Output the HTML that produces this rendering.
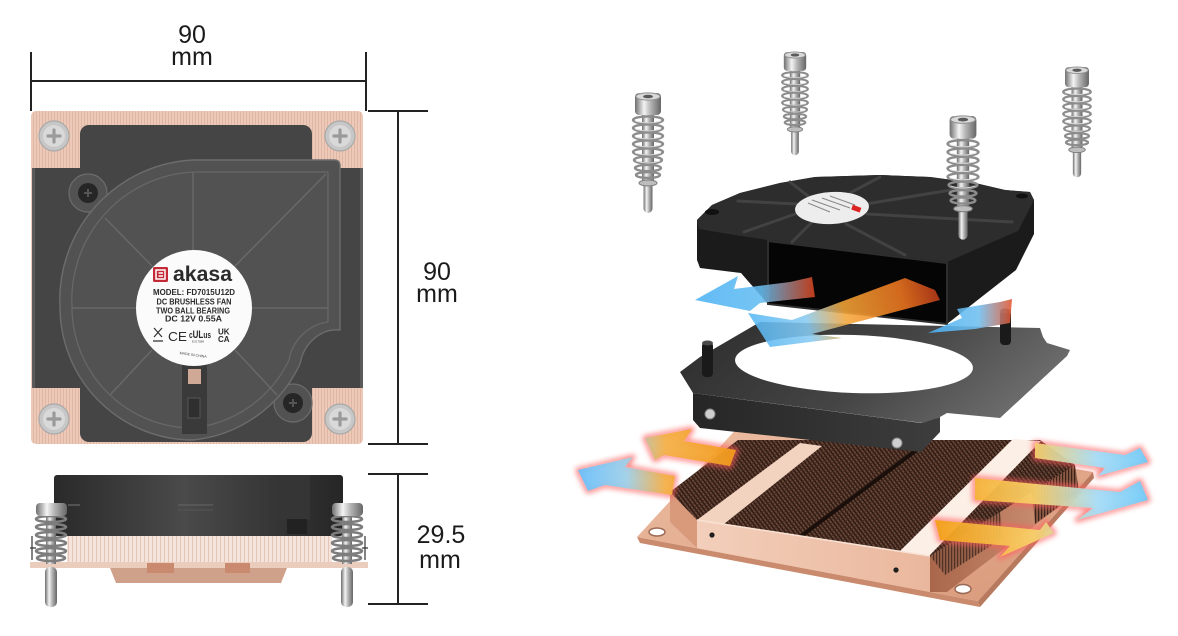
<!DOCTYPE html>
<html><head><meta charset="utf-8">
<style>
html,body{margin:0;padding:0;background:#fff;}
svg{display:block;}
text{font-family:"Liberation Sans",Arial,sans-serif;}
</style></head>
<body>
<svg width="1178" height="636" viewBox="0 0 1178 636" xmlns="http://www.w3.org/2000/svg">
<defs>
  <pattern id="cuTop" width="3" height="10" patternUnits="userSpaceOnUse">
    <rect width="3" height="10" fill="#ecc9b8"/><rect width="1" height="10" fill="#e0b5a1"/>
  </pattern>
  <pattern id="cuSide" width="4" height="10" patternUnits="userSpaceOnUse">
    <rect width="4" height="10" fill="#f5e4db"/><rect width="1" height="10" fill="#e3c6b6"/>
  </pattern>
  <pattern id="finsDark" width="3.4" height="3.4" patternUnits="userSpaceOnUse" patternTransform="rotate(-37)">
    <rect width="3.4" height="3.4" fill="#6a4637"/><rect width="1.5" height="3.4" fill="#2a1912"/><rect width="3.4" height="0.8" fill="#3c261d"/>
  </pattern>
  <pattern id="finsSideR" width="3" height="10" patternUnits="userSpaceOnUse">
    <rect width="3" height="10" fill="#8a5a45"/><rect width="1.2" height="10" fill="#3b2219"/>
  </pattern>
  <linearGradient id="metalH" x1="0" x2="1" y1="0" y2="0">
    <stop offset="0" stop-color="#6e6e6e"/><stop offset="0.35" stop-color="#f4f4f4"/>
    <stop offset="0.6" stop-color="#b4b4b4"/><stop offset="1" stop-color="#666"/>
  </linearGradient>
  <linearGradient id="fanSide" x1="0" x2="1" y1="0" y2="0">
    <stop offset="0" stop-color="#2a2a2a"/><stop offset="0.45" stop-color="#4a4a4a"/><stop offset="1" stop-color="#262626"/>
  </linearGradient>
  <linearGradient id="brTop" x1="0" x2="1" y1="0" y2="0.3">
    <stop offset="0" stop-color="#2c2c2c"/><stop offset="0.6" stop-color="#454545"/><stop offset="1" stop-color="#6a6a6a"/>
  </linearGradient>
  <linearGradient id="brFront" x1="0" x2="1" y1="0" y2="0">
    <stop offset="0" stop-color="#262626"/><stop offset="1" stop-color="#3d3d3d"/>
  </linearGradient>
  <linearGradient id="plateG" x1="0" x2="1" y1="0" y2="1">
    <stop offset="0" stop-color="#eec0a6"/><stop offset="1" stop-color="#d89878"/>
  </linearGradient>
  <linearGradient id="frontG" x1="0" x2="1" y1="0" y2="0">
    <stop offset="0" stop-color="#f3cfbb"/><stop offset="1" stop-color="#eab79d"/>
  </linearGradient>
  <linearGradient id="rightFace" x1="0" x2="1" y1="0" y2="0">
    <stop offset="0" stop-color="#a9664a"/><stop offset="1" stop-color="#d39a7e"/>
  </linearGradient>
  <linearGradient id="gA1" gradientUnits="userSpaceOnUse" x1="695" y1="0" x2="815" y2="0">
    <stop offset="0" stop-color="#4db3f5"/><stop offset="0.55" stop-color="#63bdf2"/><stop offset="1" stop-color="#d8431c"/>
  </linearGradient>
  <linearGradient id="gA2" gradientUnits="userSpaceOnUse" x1="750" y1="340" x2="940" y2="285">
    <stop offset="0" stop-color="#53b6f5"/><stop offset="0.3" stop-color="#88cbf2"/><stop offset="0.5" stop-color="#f5a638"/>
    <stop offset="0.8" stop-color="#ee7720"/><stop offset="1" stop-color="#b8361a"/>
  </linearGradient>
  <linearGradient id="gA3" gradientUnits="userSpaceOnUse" x1="928" y1="0" x2="1012" y2="0">
    <stop offset="0" stop-color="#4db3f5"/><stop offset="0.6" stop-color="#6fbff0"/><stop offset="1" stop-color="#e4552e"/>
  </linearGradient>
  <linearGradient id="gL" gradientUnits="userSpaceOnUse" x1="580" y1="0" x2="735" y2="0">
    <stop offset="0" stop-color="#6cc0fb"/><stop offset="0.3" stop-color="#9fcfe8"/><stop offset="0.55" stop-color="#f5b048"/><stop offset="1" stop-color="#f39a1c"/>
  </linearGradient>
  <linearGradient id="gR" gradientUnits="userSpaceOnUse" x1="940" y1="0" x2="1150" y2="0">
    <stop offset="0" stop-color="#f4a11c"/><stop offset="0.45" stop-color="#f8cf6a"/><stop offset="0.75" stop-color="#a6dcf7"/><stop offset="1" stop-color="#6fcaf8"/>
  </linearGradient>
  <filter id="glow" x="-20%" y="-40%" width="140%" height="180%"><feGaussianBlur stdDeviation="2.6"/></filter>
  <filter id="soft" x="-10%" y="-10%" width="120%" height="120%"><feGaussianBlur stdDeviation="1.2"/></filter>

  <g id="scr">
    <rect x="-4.5" y="20" width="9" height="100" rx="4.5" fill="url(#metalH)"/>
    <rect x="-6" y="20" width="12" height="72" fill="url(#metalH)"/>
    <g fill="none" stroke="#8c8c8c" stroke-width="2.4">
      <ellipse cx="0" cy="27" rx="15" ry="3.6"/><ellipse cx="0" cy="35" rx="15" ry="3.6"/>
      <ellipse cx="0" cy="43" rx="15" ry="3.6"/><ellipse cx="0" cy="51" rx="15" ry="3.6"/>
      <ellipse cx="0" cy="59" rx="15" ry="3.6"/><ellipse cx="0" cy="67" rx="14" ry="3.4"/>
      <ellipse cx="0" cy="75" rx="13" ry="3.2"/><ellipse cx="0" cy="82" rx="12" ry="3"/>
    </g>
    <g fill="none" stroke="#e6e6e6" stroke-width="0.8">
      <path d="M-13,28 Q0,32 13,28"/><path d="M-13,36 Q0,40 13,36"/><path d="M-13,44 Q0,48 13,44"/>
      <path d="M-13,52 Q0,56 13,52"/><path d="M-13,60 Q0,64 13,60"/><path d="M-12,68 Q0,72 12,68"/>
    </g>
    <ellipse cx="0" cy="90" rx="9" ry="3" fill="#bdbdbd" stroke="#7c7c7c" stroke-width="1"/>
    <rect x="-13" y="0" width="26" height="22" rx="4" fill="url(#metalH)"/>
    <ellipse cx="0" cy="3.5" rx="12" ry="3.6" fill="#d9d9d9" stroke="#909090" stroke-width="1"/>
    <ellipse cx="0" cy="3.5" rx="5" ry="1.8" fill="#5a5a5a"/>
  </g>
</defs>

<rect width="1178" height="636" fill="#fff"/>

<!-- ===== LEFT TOP VIEW ===== -->
<g stroke="#222" stroke-width="2" fill="none">
  <line x1="31" y1="52" x2="31" y2="111"/>
  <line x1="366" y1="52" x2="366" y2="111"/>
  <line x1="31" y1="81" x2="366" y2="81"/>
  <line x1="368" y1="111" x2="428" y2="111"/>
  <line x1="368" y1="444" x2="428" y2="444"/>
  <line x1="398" y1="111" x2="398" y2="444"/>
  <line x1="368" y1="474" x2="428" y2="474"/>
  <line x1="368" y1="604" x2="428" y2="604"/>
  <line x1="398" y1="474" x2="398" y2="604"/>
</g>
<g fill="#1a1a1a" font-size="25" text-anchor="middle">
  <text x="192" y="43">90</text>
  <text x="192" y="65">mm</text>
  <text x="437" y="280">90</text>
  <text x="437" y="302">mm</text>
  <text x="441" y="543">29.5</text>
  <text x="440" y="568">mm</text>
</g>

<rect x="31" y="111" width="332" height="333" rx="5" fill="url(#cuTop)"/>
<rect x="80" y="125" width="232" height="317" rx="9" fill="#454545"/>
<rect x="32" y="168" width="331" height="220" fill="#454545"/>
<rect x="32" y="168" width="3" height="220" fill="#5a5a5a"/>
<rect x="360" y="168" width="3" height="220" fill="#5a5a5a"/>

<!-- fan housing -->
<circle cx="88" cy="193" r="19" fill="#525252" stroke="#6c6c6c" stroke-width="1.2"/>
<circle cx="293" cy="403" r="19" fill="#525252" stroke="#6c6c6c" stroke-width="1.2"/>
<path d="M193,160 L334,160 Q340,160 340,166 L340,330 C322,328 304,342 300,364 A133 133 0 0 1 193,440 A133 133 0 0 1 60,307 A140 140 0 0 1 193,160 Z" fill="#525252" stroke="#6c6c6c" stroke-width="1.4"/>
<path d="M193,172 L328,172 L328,322 C310,324 292,340 289,360 A121 121 0 0 1 193,428 A121 121 0 0 1 72,307 A128 128 0 0 1 193,172 Z" fill="none" stroke="#676767" stroke-width="1.3"/>
<g stroke="#686868" stroke-width="1.5">
  <line x1="193" y1="172" x2="193" y2="250"/>
  <line x1="235" y1="266" x2="326" y2="174"/>
  <line x1="252" y1="308" x2="328" y2="308"/>
  <line x1="235" y1="350" x2="277" y2="395"/>
  <line x1="152" y1="350" x2="110" y2="395"/>
  <line x1="72" y1="308" x2="136" y2="308"/>
  <line x1="152" y1="266" x2="105" y2="218"/>
</g>
<!-- slot -->
<rect x="182" y="364" width="25" height="70" fill="#3a3a3a"/>
<rect x="188" y="369" width="13" height="15" fill="#cfa995"/>
<rect x="188" y="398" width="12" height="20" fill="#2f2f2f" stroke="#555" stroke-width="1"/>
<!-- fan screws -->
<circle cx="88" cy="193" r="10" fill="#262626"/>
<path d="M84,193 H92 M88,189 V197" stroke="#555" stroke-width="2"/>
<circle cx="293" cy="403" r="10" fill="#262626"/>
<path d="M289,403 H297 M293,399 V407" stroke="#555" stroke-width="2"/>

<!-- label -->
<circle cx="194" cy="308" r="58" fill="#fbfbfb"/>
<rect x="153" y="267" width="15" height="15" rx="1.5" fill="#c42a35"/>
<path d="M156,270 H165 V279 H156 Z M158.5,273 H163 M158.5,276 H163" fill="none" stroke="#fff" stroke-width="1.5"/>
<text x="173" y="281" font-size="21" font-weight="bold" fill="#2b2b2b" textLength="59" lengthAdjust="spacingAndGlyphs">akasa</text>
<g font-size="8" font-weight="bold" fill="#2a2a2a" text-anchor="middle">
  <text x="194" y="295" textLength="82" lengthAdjust="spacingAndGlyphs">MODEL: FD7015U12D</text>
  <text x="194" y="304.3" textLength="75" lengthAdjust="spacingAndGlyphs">DC BRUSHLESS FAN</text>
  <text x="193" y="313.3" textLength="74" lengthAdjust="spacingAndGlyphs">TWO BALL BEARING</text>
  <text x="193.5" y="321.7" textLength="57" lengthAdjust="spacingAndGlyphs">DC 12V   0.55A</text>
</g>
<path d="M154,328 L162,337 M162,328 L154,337 M153,341 H163" stroke="#333" stroke-width="1.2"/>
<text x="168" y="341" font-size="13" fill="#2a2a2a" textLength="19" lengthAdjust="spacingAndGlyphs">CE</text>
<text x="189" y="338" font-size="9" font-weight="bold" fill="#2a2a2a" textLength="22" lengthAdjust="spacingAndGlyphs">c<tspan font-size="11">UL</tspan>us</text>
<text x="192" y="342.5" font-size="3" fill="#444">E317588</text>
<text x="218" y="334.5" font-size="8" font-weight="bold" fill="#2a2a2a">UK</text>
<text x="218" y="342" font-size="8" font-weight="bold" fill="#2a2a2a">CA</text>
<text x="193" y="356" font-size="3.6" fill="#444" text-anchor="middle" transform="rotate(8 193 356)">MADE IN CHINA</text>

<!-- copper corner screws -->
<g>
  <circle cx="54" cy="136" r="15" fill="#c7c7c7" stroke="#a9a9a9" stroke-width="1.2"/>
  <circle cx="54" cy="136" r="11" fill="#d9d9d9"/>
  <path d="M48,136 H60 M54,130 V142" stroke="#9a9a9a" stroke-width="3.2" stroke-linecap="round"/>
  <circle cx="340" cy="136" r="15" fill="#c7c7c7" stroke="#a9a9a9" stroke-width="1.2"/>
  <circle cx="340" cy="136" r="11" fill="#d9d9d9"/>
  <path d="M334,136 H346 M340,130 V142" stroke="#9a9a9a" stroke-width="3.2" stroke-linecap="round"/>
  <circle cx="54" cy="419" r="15" fill="#c7c7c7" stroke="#a9a9a9" stroke-width="1.2"/>
  <circle cx="54" cy="419" r="11" fill="#d9d9d9"/>
  <path d="M48,419 H60 M54,413 V425" stroke="#9a9a9a" stroke-width="3.2" stroke-linecap="round"/>
  <circle cx="340" cy="419" r="15" fill="#c7c7c7" stroke="#a9a9a9" stroke-width="1.2"/>
  <circle cx="340" cy="419" r="11" fill="#d9d9d9"/>
  <path d="M334,419 H346 M340,413 V425" stroke="#9a9a9a" stroke-width="3.2" stroke-linecap="round"/>
</g>

<!-- ===== SIDE VIEW ===== -->
<rect x="54" y="475" width="289" height="61" rx="3" fill="url(#fanSide)"/>
<rect x="277" y="475" width="33" height="45" fill="#353535"/>
<rect x="287" y="519" width="20" height="15" fill="#222"/>
<line x1="68" y1="505" x2="80" y2="505" stroke="#777" stroke-width="1"/>
<line x1="178" y1="505" x2="213" y2="505" stroke="#666" stroke-width="1"/>
<line x1="178" y1="510" x2="213" y2="510" stroke="#555" stroke-width="1"/>
<rect x="67" y="536" width="265" height="26" fill="url(#cuSide)"/>
<rect x="30" y="562" width="338" height="6" fill="#eacdbd"/>
<polygon points="110,568 287,568 281,583 116,583" fill="#cfa18b"/>
<rect x="147" y="563" width="27" height="10" fill="#c98a70"/>
<rect x="225" y="563" width="25" height="10" fill="#c98a70"/>
<g stroke="#333" stroke-width="1.2" fill="none">
  <path d="M32,536 V560 M30,548 H36"/>
  <path d="M365,536 V560 M368,548 H362"/>
</g>
<g>
  <rect x="46" y="514" width="10" height="50" fill="url(#metalH)"/>
  <rect x="45" y="567" width="12" height="40" rx="5" fill="url(#metalH)"/>
  <g fill="none" stroke="#7d7d7d" stroke-width="2.6">
    <ellipse cx="51" cy="519" rx="15" ry="3"/><ellipse cx="51" cy="527" rx="15" ry="3"/>
    <ellipse cx="51" cy="535" rx="15" ry="3"/><ellipse cx="51" cy="543" rx="15" ry="3"/>
    <ellipse cx="51" cy="551" rx="15" ry="3"/><ellipse cx="51" cy="558" rx="14" ry="3"/>
  </g>
  <rect x="36" y="503" width="31" height="13" rx="4" fill="url(#metalH)"/>
  <rect x="342" y="514" width="10" height="50" fill="url(#metalH)"/>
  <rect x="341" y="567" width="12" height="40" rx="5" fill="url(#metalH)"/>
  <g fill="none" stroke="#7d7d7d" stroke-width="2.6">
    <ellipse cx="347" cy="519" rx="15" ry="3"/><ellipse cx="347" cy="527" rx="15" ry="3"/>
    <ellipse cx="347" cy="535" rx="15" ry="3"/><ellipse cx="347" cy="543" rx="15" ry="3"/>
    <ellipse cx="347" cy="551" rx="15" ry="3"/><ellipse cx="347" cy="558" rx="14" ry="3"/>
  </g>
  <rect x="332" y="503" width="31" height="13" rx="4" fill="url(#metalH)"/>
</g>

<!-- ===== RIGHT EXPLODED VIEW ===== -->
<!-- heatsink base plate -->
<polygon points="637,537 978,601 980,607 640,543" fill="#c98a6d"/>
<polygon points="978,601 1093,472 1094,478 980,607" fill="#b87a5f"/>
<polygon points="637,537 752,412 1093,472 978,601" fill="url(#plateG)"/>
<ellipse cx="657" cy="532" rx="8" ry="4" fill="#fff" stroke="#9a6a55" stroke-width="1.5"/>
<ellipse cx="963" cy="589" rx="8" ry="4.5" fill="#fff" stroke="#9a6a55" stroke-width="1.5"/>
<!-- fin block -->
<polygon points="930,556 1075,465 1079,492 947,592 930,592" fill="url(#rightFace)"/>
<polygon points="1030,470 1075,465 1079,492 1035,524" fill="url(#finsSideR)"/>
<polygon points="930,556 1000,512 1003,538 945,575" fill="url(#finsSideR)" opacity="0.8"/>
<polygon points="670,492 697,520 697,548 670,522" fill="#d99a7c"/>
<polygon points="670,492 738,440 1040,440 1075,465 930,556 697,520" fill="url(#finsDark)"/>
<polygon points="697,520 724,524 822,446 800,443" fill="#f2d3c0"/>
<polygon points="900,551 929,556 1041,441 1013,439" fill="#fcefe6"/>
<line x1="800" y1="537" x2="926" y2="443" stroke="#1a0f0b" stroke-width="4"/>
<polygon points="697,520 930,556 930,592 697,548" fill="url(#frontG)"/>
<line x1="697" y1="520" x2="930" y2="556" stroke="#f9e2d4" stroke-width="1.5"/>
<circle cx="712" cy="535" r="2.6" fill="#1e1e1e"/>
<circle cx="896" cy="570" r="2.6" fill="#1e1e1e"/>

<!-- bracket -->
<polygon points="693,393 921,423 940,417 940,432 921,452 700,428 693,420" fill="url(#brFront)"/>
<polygon points="680,372 700,357 760,322 1040,328 1043,337 1047,343 1070,350 1067,356 1000,418 947,413 940,417 923,423 693,393" fill="url(#brTop)"/>
<ellipse cx="854" cy="364" rx="119" ry="29" fill="#fff" transform="rotate(2 854 364)"/>
<rect x="702" y="342" width="11" height="35" rx="4" fill="#1a1a1a"/>
<ellipse cx="707.5" cy="343" rx="5.5" ry="2.5" fill="#4a4a4a"/>
<rect x="1000" y="310" width="11" height="35" rx="4" fill="#1a1a1a"/>
<ellipse cx="1005.5" cy="311" rx="5.5" ry="2.5" fill="#4a4a4a"/>
<circle cx="710" cy="414" r="5" fill="#cfcfcf" stroke="#888" stroke-width="1"/>
<circle cx="897" cy="443" r="5" fill="#cfcfcf" stroke="#888" stroke-width="1"/>

<!-- fan -->
<polygon points="697,220 712,205 740,193 780,183 815,177 880,175 930,177 975,183 1005,190 1030,192 1034,200 1034,234 1016,270 947,324 768,304 741,273 700,268 697,260" fill="#1b1b1b"/>
<polygon points="697,220 712,205 740,193 780,183 815,177 880,175 930,177 975,183 1005,190 1030,192 1034,200 1018,231 947,262 768,240 741,236 699,229" fill="#2d2d2d"/>
<polygon points="768,241 947,263 947,324 768,304" fill="#050505" stroke="#2e2e2e" stroke-width="2"/>
<g stroke="#424242" stroke-width="3" stroke-linecap="round">
  <line x1="797" y1="204" x2="738" y2="201"/>
  <line x1="808" y1="196" x2="790" y2="182"/>
  <line x1="850" y1="193" x2="880" y2="177"/>
  <line x1="866" y1="204" x2="975" y2="186"/>
  <line x1="867" y1="214" x2="1012" y2="222"/>
  <line x1="846" y1="224" x2="905" y2="255"/>
  <line x1="812" y1="222" x2="792" y2="242"/>
  <line x1="798" y1="213" x2="744" y2="232"/>
</g>
<ellipse cx="712" cy="212" rx="7" ry="3" fill="#111"/>
<ellipse cx="1022" cy="196" rx="6" ry="2.5" fill="#111"/>
<ellipse cx="832" cy="208" rx="37" ry="16" fill="#ededed" transform="rotate(-3 832 208)"/>
<g stroke="#888" stroke-width="1">
  <line x1="808" y1="203" x2="830" y2="212"/><line x1="812" y1="200" x2="840" y2="210"/>
  <line x1="822" y1="198" x2="850" y2="208"/><line x1="830" y1="196" x2="855" y2="205"/>
</g>
<rect x="852" y="206" width="9" height="5" fill="#d22" transform="rotate(20 856 208)"/>

<!-- fan airflows -->
<g opacity="0.88">
  <polygon points="695,300 738,276 734,289 790,282 812,277 815,297 760,303 750,311" fill="url(#gA1)"/>
  <polygon points="748,313 792,320 905,278 935,290 940,300 812,334 842,338 770,347" fill="url(#gA2)"/>
  <polygon points="928,333 962,318 957,309 1000,302 1012,299 1010,323 975,329" fill="url(#gA3)"/>
</g>

<!-- screws -->
<use href="#scr" transform="translate(648,93)"/>
<use href="#scr" transform="translate(795,52) scale(0.86)"/>
<use href="#scr" transform="translate(963,116) scale(1.03)"/>
<use href="#scr" transform="translate(1077,67) scale(0.92)"/>

<!-- heatsink arrows -->
<g filter="url(#glow)" fill="none" stroke="#ff5d5d" stroke-width="5" stroke-linejoin="round" opacity="0.75">
  <polygon points="645,438 692,429 684,441 736,450 730,466 664,455 655,460"/>
  <polygon points="578,470 633,457 625,467 675,476 672,495 605,485 588,491"/>
  <polygon points="1035,443 1125,455 1140,448 1148,462 1098,476 1105,468 1035,458"/>
  <polygon points="975,478 1120,492 1140,481 1148,500 1077,520 1093,508 975,500"/>
  <polygon points="935,520 1040,530 1046,522 1054,533 1000,557 1010,546 940,540"/>
</g>
<g opacity="0.95">
  <polygon points="645,438 692,429 684,441 736,450 730,466 664,455 655,460" fill="url(#gL)"/>
  <polygon points="578,470 633,457 625,467 675,476 672,495 605,485 588,491" fill="url(#gL)"/>
  <polygon points="1035,443 1125,455 1140,448 1148,462 1098,476 1105,468 1035,458" fill="url(#gR)"/>
  <polygon points="975,478 1120,492 1140,481 1148,500 1077,520 1093,508 975,500" fill="url(#gR)"/>
  <polygon points="935,520 1040,530 1046,522 1054,533 1000,557 1010,546 940,540" fill="url(#gR)"/>
</g>
</svg>
</body>
</html>
